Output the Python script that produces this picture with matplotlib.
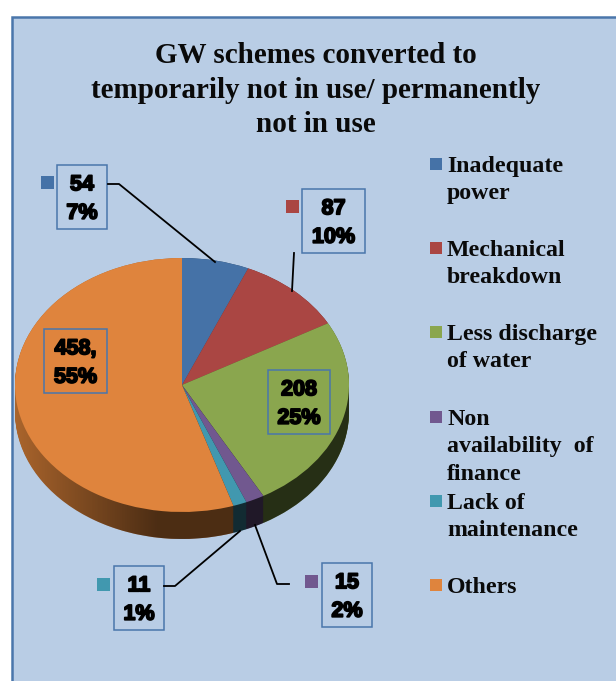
import numpy as np
import matplotlib
matplotlib.use('Agg')
from matplotlib import pyplot as plt
from matplotlib.patches import Rectangle, PathPatch
from matplotlib.path import Path
import matplotlib.patheffects as pe

W, H = 616, 681

categories = ['Inadequate\npower', 'Mechanical\nbreakdown', 'Less discharge\nof water',
              'Non\navailability  of\nfinance', 'Lack of\nmaintenance', 'Others']
values = [54, 87, 208, 15, 11, 458]
percents = [7, 10, 25, 2, 1, 55]
colors = ['#4572a7', '#aa4643', '#8aa64e', '#71588f', '#4198af', '#df843d']
side_colors = ['#2c4868', '#6b2c2a', '#56692f', '#47375a', '#296070', '#a9642c']
title = 'GW schemes converted to\ntemporarily not in use/ permanently\nnot in use'

# pixel places of the label boxes (left, top, width, height)
boxes = [(57, 165, 50, 64), (302, 189, 63, 64), (268, 370, 62, 64),
         (322, 563, 50, 64), (114, 566, 50, 64), (44, 329, 63, 64)]
keys = [(41, 176), (286, 200), None, (305, 575), (97, 578), None]
leaders = [[(108, 184), (119, 184), (215, 262)],
           [(294, 253), (292, 291)],
           None,
           [(255, 525), (277, 584), (289, 584)],
           [(240, 531), (175, 586), (164, 586)],
           None]
legend_y = [164, 248, 332, 417, 501, 585]

cx, cy, rx, ry, depth = 182, 385, 167, 127, 27


def main():
    fig = plt.figure(figsize=(W / 100, H / 100), dpi=100, facecolor='white')

    # pixel coordinate layer for the panel, texts and boxes
    bg = fig.add_axes([0, 0, 1, 1], zorder=0)
    bg.set_xlim(0, W)
    bg.set_ylim(H, 0)
    bg.axis('off')
    bg.add_patch(Rectangle((11.5, 16.5), W, H, fc='#b9cde5', ec='#4a76ab', lw=1.8))

    ax = fig.add_axes([(cx - rx) / W, 1 - (cy + ry + depth) / H, 2 * rx / W, (2 * ry + depth) / H], zorder=1)
    d = depth / ry

    # side of the pie: stacked copies going down
    for off in np.linspace(d, 0, 30):
        ax.pie(values, colors=side_colors, startangle=90, counterclock=False,
               center=(0, -off), radius=1, frame=True)

    # darkening towards the front of the side
    t = np.linspace(np.pi, 2 * np.pi, 100)
    clip_pts = np.column_stack([np.cos(t), np.sin(t) - d])
    clip_pts = np.vstack([[-1, 0], clip_pts, [1, 0], [-1, 0]])
    clip = PathPatch(Path(clip_pts), transform=ax.transData, fc='none', ec='none')
    ax.add_patch(clip)
    xx = np.linspace(-1, 1, 200)
    shade = np.zeros((1, 200, 4))
    shade[0, :, 3] = np.clip((xx + 1) / 0.85, 0, 1) * 0.55
    im = ax.imshow(shade, extent=(-1, 1, -1 - d, 1), aspect='auto', zorder=5)
    im.set_clip_path(clip)

    # top face
    wedges, _ = ax.pie(values, colors=colors, startangle=90, counterclock=False,
                       center=(0, 0), radius=1, frame=True)
    for w in wedges:
        w.set_zorder(6)
    ax.set_aspect('auto')
    ax.set_xlim(-1, 1)
    ax.set_ylim(-1 - d, 1)
    ax.axis('off')

    # upper layer for labels
    top = fig.add_axes([0, 0, 1, 1], zorder=2)
    top.set_xlim(0, W)
    top.set_ylim(H, 0)
    top.axis('off')
    top.patch.set_alpha(0)

    top.text(316, 90, title, ha='center', va='center', family='Liberation Serif',
             weight='bold', fontsize=21, linespacing=1.37, color='#0a0a0a')

    for i in range(len(values)):
        x, y, bw, bh = boxes[i]
        top.add_patch(Rectangle((x, y), bw, bh, fc='none', ec='#4a76ab', lw=1.1))
        sep = ',' if values[i] == 458 else ''
        label = '%d%s\n%d%%' % (values[i], sep, percents[i])
        top.text(x + bw / 2, y + bh / 2 + 2, label, ha='center', va='center',
                 family='Liberation Sans', weight='bold', fontsize=15.5, linespacing=1.47,
                 color='black', path_effects=[pe.withStroke(linewidth=1.3, foreground='black')])
        if keys[i]:
            top.add_patch(Rectangle(keys[i], 13, 13, fc=colors[i], ec='none'))
        if leaders[i]:
            xs, ys = zip(*leaders[i])
            top.plot(xs, ys, color='black', lw=1.3)

        # legend entry
        top.add_patch(Rectangle((430, legend_y[i] - 6), 12, 12, fc=colors[i], ec='none'))
        top.text(447, legend_y[i] - 8, categories[i], ha='left', va='top',
                 family='Liberation Serif', weight='bold', fontsize=17.2,
                 linespacing=1.4, color='#0a0a0a')

    fig.savefig('out.png', dpi=100)


if __name__ == '__main__':
    main()
